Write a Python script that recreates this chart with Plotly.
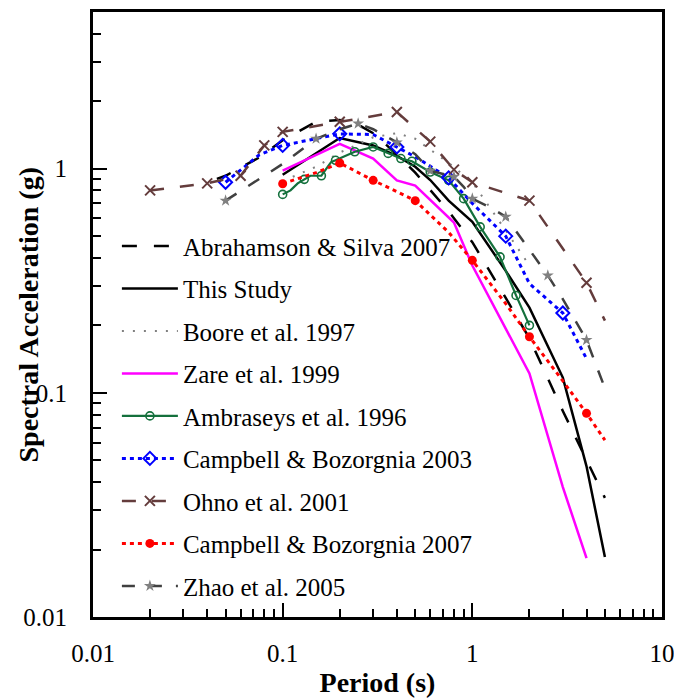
import plotly.graph_objects as go

# ---------------- data ----------------
T_AS07 = [0.045, 0.05, 0.075, 0.1, 0.15, 0.2, 0.25, 0.3, 0.4, 0.5, 0.75, 1.0, 1.5, 2.0, 3.0, 4.0, 5.0]
SA_AS07 = [0.90, 0.93, 1.12, 1.34, 1.62, 1.65, 1.57, 1.44, 1.16, 0.96, 0.645, 0.47, 0.265, 0.175, 0.083, 0.05, 0.034]

T_STUDY = [0.1, 0.2, 0.3, 0.4, 0.5, 0.6, 0.75, 1.0, 1.5, 2.0, 3.0, 4.0, 5.0]
SA_STUDY = [0.94, 1.37, 1.27, 1.14, 1.02, 0.89, 0.72, 0.58, 0.35, 0.24, 0.117, 0.047, 0.0185]

T_BOORE = [0.1, 0.15, 0.2, 0.3, 0.4, 0.5, 0.75, 1.0, 1.5, 2.0]
SA_BOORE = [0.88, 1.02, 1.18, 1.38, 1.44, 1.36, 1.06, 0.87, 0.53, 0.37]

T_ZARE = [0.1, 0.2, 0.3, 0.4, 0.5, 0.8, 1.0, 2.0, 3.0, 4.0]
SA_ZARE = [0.98, 1.29, 1.11, 0.887, 0.84, 0.575, 0.37, 0.122, 0.038, 0.0183]

T_AMB = [0.1, 0.11, 0.12, 0.13, 0.14, 0.15, 0.16, 0.17, 0.18, 0.19, 0.24, 0.30, 0.36, 0.42, 0.48,
         0.60, 0.75, 0.90, 1.10, 1.40, 1.70, 2.00]
SA_AMB = [0.768, 0.80, 0.86, 0.896, 0.93, 0.93, 0.93, 1.00, 1.07, 1.09, 1.19, 1.25, 1.17, 1.11, 1.08,
          0.966, 0.887, 0.735, 0.55, 0.404, 0.272, 0.20]
MARK_AMB = [0.1, 0.13, 0.16, 0.19, 0.24, 0.30, 0.36, 0.42, 0.48, 0.60, 0.75, 0.90, 1.10, 1.40, 1.70, 2.00]

T_CB03 = [0.05, 0.075, 0.1, 0.15, 0.2, 0.3, 0.4, 0.5, 0.75, 1.0, 1.5, 2.0, 3.0, 4.0]
SA_CB03 = [0.87, 1.15, 1.27, 1.36, 1.43, 1.42, 1.25, 1.13, 0.91, 0.70, 0.50, 0.307, 0.227, 0.142]
MARK_CB03 = [0.05, 0.1, 0.2, 0.4, 0.75, 1.5, 3.0]

T_OHNO = [0.02, 0.04, 0.06, 0.08, 0.1, 0.2, 0.4, 0.6, 0.8, 1.0, 2.0, 4.0, 5.0]
SA_OHNO = [0.80, 0.86, 0.93, 1.27, 1.46, 1.62, 1.79, 1.32, 0.99, 0.87, 0.72, 0.31, 0.21]
MARK_OHNO = [0.02, 0.04, 0.06, 0.08, 0.1, 0.2, 0.4, 0.6, 0.8, 1.0, 2.0, 4.0]

T_CB07 = [0.1, 0.15, 0.2, 0.25, 0.3, 0.4, 0.5, 0.75, 1.0, 1.5, 2.0, 3.0, 4.0, 5.0]
SA_CB07 = [0.857, 0.96, 1.06, 0.96, 0.887, 0.79, 0.72, 0.52, 0.39, 0.25, 0.178, 0.113, 0.081, 0.0615]
MARK_CB07 = [0.1, 0.2, 0.3, 0.5, 1.0, 2.0, 4.0]

T_ZHAO = [0.05, 0.1, 0.15, 0.2, 0.25, 0.3, 0.4, 0.5, 0.6, 0.7, 0.8, 0.9, 1.0, 1.25, 1.5, 2.0, 2.5, 3.0, 4.0, 5.0]
SA_ZHAO = [0.72, 1.05, 1.36, 1.50, 1.59, 1.50, 1.31, 1.16, 0.98, 0.95, 0.92, 0.83, 0.735, 0.67, 0.61, 0.435,
           0.334, 0.262, 0.172, 0.105]
MARK_ZHAO = [0.05, 0.15, 0.25, 0.4, 0.6, 0.8, 1.0, 1.5, 2.5, 4.0]

NAMES = ["Abrahamson & Silva 2007", "This Study", "Boore et al. 1997", "Zare et al. 1999",
         "Ambraseys et al. 1996", "Campbell & Bozorgnia 2003", "Ohno et al. 2001",
         "Campbell & Bozorgnia 2007", "Zhao et al. 2005"]

X_TICKS = [0.01, 0.1, 1, 10]
X_TICK_TEXT = ["0.01", "0.1", "1", "10"]
Y_TICKS = [0.01, 0.1, 1]
Y_TICK_TEXT = ["0.01", "0.1", "1"]
X_TITLE = "Period (s)"
Y_TITLE = "Spectral Acceleration (g)"

# ---------------- styles ----------------
BROWN = "#643c3c"
GREEN = "#14703c"
STYLES = [
    dict(line=dict(color="black", width=2.5, dash="15px,17px"), marker=None),
    dict(line=dict(color="black", width=2.5), marker=None),
    dict(line=dict(color="#808080", width=2, dash="2px,9px"), marker=None),
    dict(line=dict(color="#ff00ff", width=2.5), marker=None),
    dict(line=dict(color=GREEN, width=2.2),
         marker=dict(symbol="circle-open", size=8, color=GREEN, line=dict(width=1.6, color=GREEN))),
    dict(line=dict(color="#0000ff", width=3, dash="4px,4px"),
         marker=dict(symbol="diamond-open", size=10, color="#0000ff", line=dict(width=2, color="#0000ff"))),
    dict(line=dict(color=BROWN, width=2.5, dash="14px,16px"),
         marker=dict(symbol="x-thin-open", size=10, color=BROWN, line=dict(width=2, color=BROWN))),
    dict(line=dict(color="#ff0000", width=3, dash="4px,4px"),
         marker=dict(symbol="circle", size=9, color="#ff0000")),
    dict(line=dict(color="#404040", width=2.5, dash="13px,14px"),
         marker=dict(symbol="star", size=9, color="#808080", line=dict(width=0))),
]

SERIES = [
    (T_AS07, SA_AS07, None),
    (T_STUDY, SA_STUDY, None),
    (T_BOORE, SA_BOORE, None),
    (T_ZARE, SA_ZARE, None),
    (T_AMB, SA_AMB, MARK_AMB),
    (T_CB03, SA_CB03, MARK_CB03),
    (T_OHNO, SA_OHNO, MARK_OHNO),
    (T_CB07, SA_CB07, MARK_CB07),
    (T_ZHAO, SA_ZHAO, MARK_ZHAO),
]

FONT = "Liberation Serif, Times New Roman, serif"
X_RANGE = [-2, 1]
Y_RANGE = [-2, 0.69897]
MINOR_X = [k * 10.0 ** e for e in range(-2, 1) for k in range(2, 10)]
MINOR_Y = [k * 10.0 ** e for e in range(-2, 1) for k in range(2, 10) if k * 10.0 ** e <= 5]

fig = go.Figure()
for name, (T, SA, marks), st in zip(NAMES, SERIES, STYLES):
    fig.add_trace(go.Scatter(x=T, y=SA, mode="lines", line=st["line"], showlegend=False,
                             legendgroup=name, hoverinfo="skip"))
    if marks is not None:
        mx = [t for t in T if t in marks]
        my = [s for t, s in zip(T, SA) if t in marks]
        fig.add_trace(go.Scatter(x=mx, y=my, mode="markers", marker=st["marker"], showlegend=False,
                                 legendgroup=name, hoverinfo="skip"))
    # legend entry
    fig.add_trace(go.Scatter(x=[None], y=[None], name=name, legendgroup=name,
                             mode="lines+markers" if st["marker"] else "lines",
                             line=st["line"], marker=st["marker"] if st["marker"] else None))

# carrier for the minor-tick overlay axes
fig.add_trace(go.Scatter(x=[None], y=[None], xaxis="x2", yaxis="y2", showlegend=False, hoverinfo="skip"))

major = dict(
    type="log", showline=True, linecolor="black", linewidth=3, mirror=True,
    ticks="inside", ticklen=14, tickwidth=2, tickcolor="black",
    showgrid=False, zeroline=False, automargin=False,
    tickfont=dict(family=FONT, size=25, color="black"),
)
minor = dict(
    type="log", showline=False, ticks="inside", ticklen=8, tickwidth=2, tickcolor="black",
    showgrid=False, zeroline=False, showticklabels=False, automargin=False,
)

fig.update_layout(
    xaxis=dict(**major, range=X_RANGE, tickvals=X_TICKS, ticktext=X_TICK_TEXT,
               title=dict(text=X_TITLE, font=dict(family=FONT, size=28, color="black", weight="bold"),
                          standoff=10),
               ticklabelstandoff=12),
    yaxis=dict(**major, range=Y_RANGE, tickvals=Y_TICKS, ticktext=Y_TICK_TEXT, ticklabelstandoff=18),
    xaxis2=dict(**minor, range=X_RANGE, tickvals=MINOR_X, overlaying="x", anchor="y"),
    yaxis2=dict(**minor, range=Y_RANGE, tickvals=MINOR_Y, overlaying="y", anchor="x", side="left"),
    annotations=[dict(text=Y_TITLE, textangle=-90, xref="paper", yref="paper", x=-0.1125, y=0.5,
                      xanchor="center", yanchor="middle", showarrow=False,
                      font=dict(family=FONT, size=28, color="black", weight="bold"))],
    width=674, height=690,
    margin=dict(l=85, r=20, t=4, b=81, autoexpand=False),
    paper_bgcolor="white", plot_bgcolor="white",
    font=dict(family=FONT, color="black"),
    legend=dict(x=0.042, y=0.651, xanchor="left", yanchor="top",
                font=dict(family=FONT, size=25, color="black"),
                bgcolor="rgba(0,0,0,0)", borderwidth=0,
                tracegroupgap=7, itemwidth=56, traceorder="grouped"),
)

fig.write_html("out.html")
